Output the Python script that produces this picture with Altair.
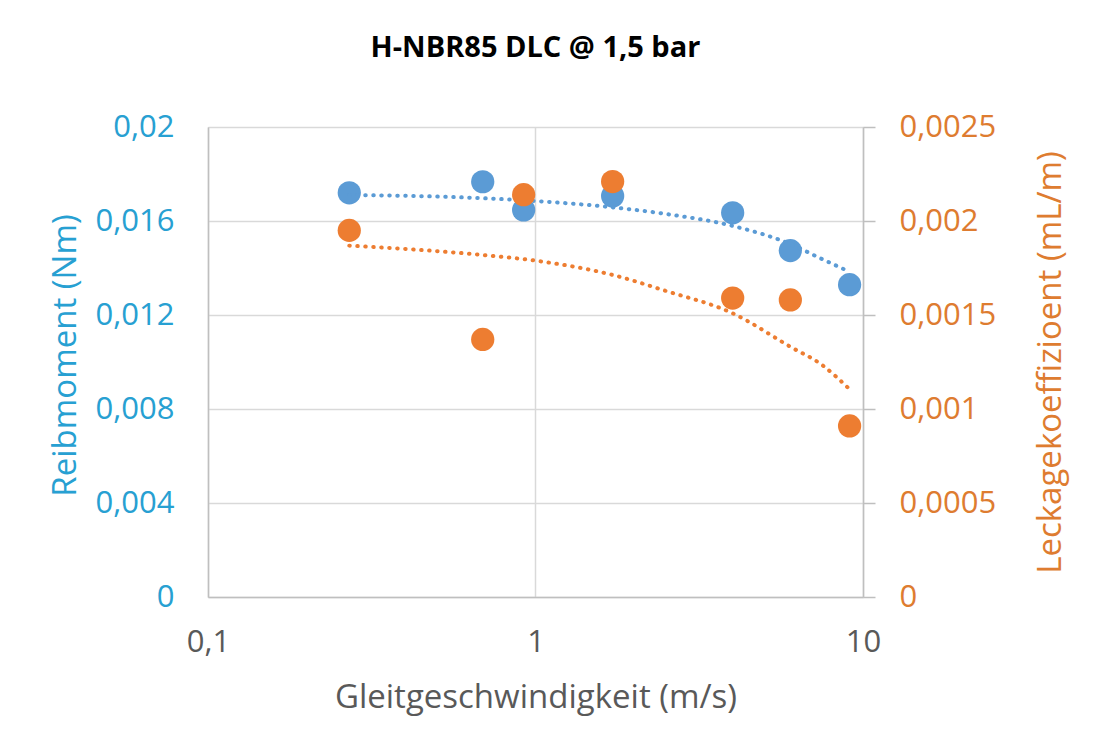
import altair as alt
import pandas as pd

# measured data
speed = [0.27, 0.69, 0.92, 1.72, 4.0, 6.0, 9.1]
reibmoment = [0.0172, 0.01767, 0.01647, 0.01706, 0.01635, 0.01474, 0.01329]
leckage = [0.00195, 0.00137, 0.00214, 0.00221, 0.00159, 0.00158, 0.00091]

# dotted trend lines
trend_x = [0.27, 0.69, 1.0, 1.72, 2.5, 4.0, 6.0, 7.5, 9.1]
trend_reib = [0.01711, 0.01697, 0.01685, 0.01658, 0.0163, 0.01579, 0.01502, 0.01438, 0.01384]
trend_leck = [0.001869, 0.001819, 0.001789, 0.001713, 0.001628, 0.001509, 0.001331, 0.001234, 0.001105]

x_ticks = [0.1, 1, 10]
left_ticks = [0, 0.004, 0.008, 0.012, 0.016, 0.02]
right_ticks = [0, 0.0005, 0.001, 0.0015, 0.002, 0.0025]

BLUE = "#5B9BD5"
ORANGE = "#ED7D31"
BLUE_TXT = "#27A0D2"
ORANGE_TXT = "#DE7C30"
GREY_TXT = "#595959"
FONT = "Open Sans"
LBL = 31
TTL = 33

pts = pd.DataFrame({"speed": speed, "reib": reibmoment, "leck": leckage})
trend = pd.DataFrame({"tx": trend_x, "treib": trend_reib, "tleck": trend_leck})

label_expr = "replace(format(datum.value, '~g'), '.', ',')"
xscale = alt.Scale(type="log", domain=[0.1, 10])

x_enc = alt.X(
    "speed:Q",
    scale=xscale,
    axis=alt.Axis(
        values=x_ticks, labelExpr=label_expr, title="Gleitgeschwindigkeit (m/s)",
        grid=True, gridColor="#D9D9D9", gridWidth=1.5, ticks=False, labelFlush=False,
        domainColor="#BFBFBF", domainWidth=1.5,
        labelColor=GREY_TXT, labelFontSize=LBL, labelFont=FONT, labelPadding=30,
        titleColor=GREY_TXT, titleFontSize=TTL, titleFont=FONT, titleFontWeight="normal",
        titleX=327.5, titleY=100, titleBaseline="middle", titleAlign="center",
    ),
)

y_left_scale = alt.Scale(domain=[0, 0.02])
y_right_scale = alt.Scale(domain=[0, 0.0025])

left_axis = alt.Axis(
    values=left_ticks, labelExpr=label_expr, title="Reibmoment (Nm)",
    grid=True, gridColor="#D9D9D9", gridWidth=1.5, ticks=False,
    domainColor="#BFBFBF", domainWidth=1.5,
    labelColor=BLUE_TXT, labelFontSize=LBL, labelFont=FONT, labelPadding=34,
    titleColor=BLUE_TXT, titleFontSize=TTL, titleFont=FONT, titleFontWeight="normal",
    titleX=-143, titleY=228, titleBaseline="middle", titleAlign="center", titleAngle=270,
)
right_axis = alt.Axis(
    values=right_ticks, labelExpr=label_expr, title="Leckagekoeffizioent (mL/m)",
    orient="right", grid=False, ticks=True, tickSize=12, tickColor="#BFBFBF", tickWidth=1.5,
    domainColor="#BFBFBF", domainWidth=1.5,
    labelColor=ORANGE_TXT, labelFontSize=LBL, labelFont=FONT, labelPadding=24,
    titleColor=ORANGE_TXT, titleFontSize=TTL, titleFont=FONT, titleFontWeight="normal",
    titleX=187, titleY=235, titleBaseline="middle", titleAlign="center", titleAngle=270,
)

blue_pts = alt.Chart(pts).mark_circle(size=540, opacity=1, color=BLUE).encode(
    x=x_enc, y=alt.Y("reib:Q", scale=y_left_scale, axis=left_axis)
)
blue_trend = alt.Chart(trend).mark_line(
    color=BLUE, strokeWidth=4, strokeDash=[0.5, 7.5], strokeCap="round", interpolate="monotone"
).encode(
    x=alt.X("tx:Q", scale=xscale),
    y=alt.Y("treib:Q", scale=y_left_scale),
)
orange_pts = alt.Chart(pts).mark_circle(size=540, opacity=1, color=ORANGE).encode(
    x=alt.X("speed:Q", scale=xscale),
    y=alt.Y("leck:Q", scale=y_right_scale, axis=right_axis),
)
orange_trend = alt.Chart(trend).mark_line(
    color=ORANGE, strokeWidth=4, strokeDash=[0.5, 7.5], strokeCap="round", interpolate="monotone"
).encode(
    x=alt.X("tx:Q", scale=xscale),
    y=alt.Y("tleck:Q", scale=y_right_scale),
)

left = alt.layer(blue_pts, blue_trend)
right = alt.layer(orange_pts, orange_trend)

chart = alt.layer(left, right).resolve_scale(y="independent").properties(
    width=655,
    height=470,
    autosize=alt.AutoSizeParams(type="none"),
    padding={"left": 200, "top": 119, "right": 235, "bottom": 134},
    title=alt.TitleParams(
        "H-NBR85 DLC @ 1,5 bar", font=FONT, fontSize=29, fontWeight="bold",
        color="#000000", anchor="middle", offset=48,
    ),
).configure_view(stroke=None).configure(background="white")

chart.save("out.html", embed_options={"renderer": "svg", "actions": False})
